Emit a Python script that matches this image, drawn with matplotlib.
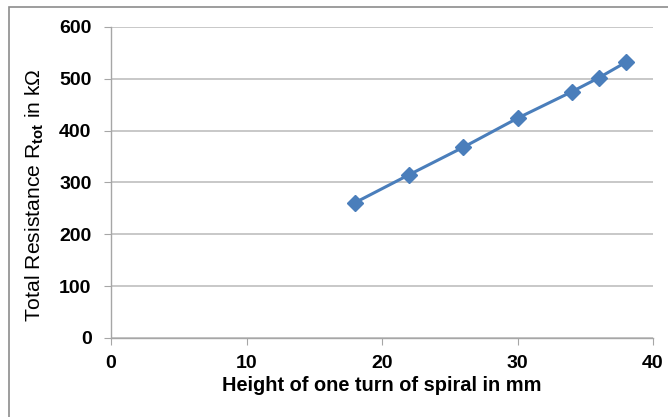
#!/usr/bin/env python3

import matplotlib
matplotlib.use('Agg')
import matplotlib.pyplot as plt
from matplotlib.patches import Rectangle

# data
heights = [18, 22, 26, 30, 34, 36, 38]
resistance = [261, 315, 368, 424, 475, 502, 532]

x_ticks = [0, 10, 20, 30, 40]
y_ticks = [0, 100, 200, 300, 400, 500, 600]

plt.rcParams['font.family'] = ['Liberation Sans', 'DejaVu Sans']
plt.rcParams['mathtext.fontset'] = 'custom'
plt.rcParams['mathtext.rm'] = 'Liberation Sans'
plt.rcParams['mathtext.bf'] = 'Liberation Sans:bold'

fig = plt.figure(figsize=(6.68, 4.17), dpi=100)

# outer chart frame (cropped at right and bottom)
fig.patches.append(Rectangle((9 / 668, -0.05), 1.1, 1 - 7 / 417 + 0.05,
                             transform=fig.transFigure, fill=False,
                             edgecolor='#8c8c8c', linewidth=1.2))

ax = fig.add_axes([111 / 668, 1 - 338 / 417, (653 - 111) / 668, (338 - 27) / 417])

ax.plot(heights, resistance, color='#4a7ebb', linewidth=2.2,
        marker='D', markersize=8, markerfacecolor='#4a7ebb',
        markeredgecolor='#4a7ebb')

ax.set_xlim(0, 40)
ax.set_ylim(0, 600)
ax.set_xticks(x_ticks)
ax.set_yticks(y_ticks)

ax.grid(axis='y', color='#bfbfbf', linewidth=1.2)
ax.set_axisbelow(True)

for s in ('top', 'right'):
    ax.spines[s].set_visible(False)
for s in ('left', 'bottom'):
    ax.spines[s].set_color('#a6a6a6')
    ax.spines[s].set_linewidth(1.0)

ax.tick_params(axis='both', direction='out', length=5, color='#a6a6a6',
               labelsize=14)
ax.tick_params(axis='y', pad=9)
ax.tick_params(axis='x', pad=7)
for lbl in ax.get_xticklabels() + ax.get_yticklabels():
    lbl.set_fontweight('bold')

ax.set_xlabel('Height of one turn of spiral in mm', fontsize=14.4,
              fontweight='bold', labelpad=3)
ax.set_ylabel(r'Total Resistance R$_{\mathbf{tot}}$ in k$\mathrm{\Omega}$',
              fontsize=15.2)
ax.yaxis.set_label_coords(-0.12, 0.46)

plt.savefig('out.png', dpi=100)
